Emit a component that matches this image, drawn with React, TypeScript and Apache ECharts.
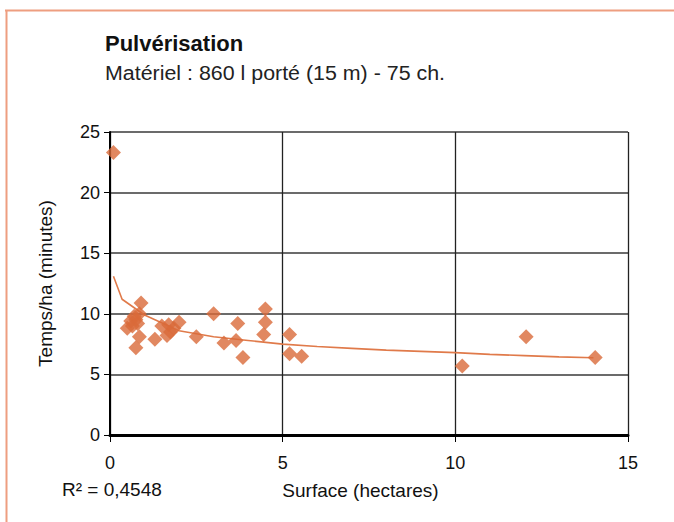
import React, { useEffect, useRef } from "react";
import * as echarts from "echarts";

const surfaceHa = [0.1, 0.5, 0.6, 0.65, 0.7, 0.75, 0.8, 0.85, 0.9, 0.85, 0.75, 1.3, 1.5, 1.65, 1.7, 1.75, 1.85, 2.0, 2.5, 3.0, 3.3, 3.65, 3.7, 3.85, 4.45, 4.5, 4.5, 5.2, 5.2, 5.55, 10.2, 12.05, 14.05];
const tempsMin = [23.3, 8.8, 9.4, 9.0, 9.8, 9.5, 9.2, 10.0, 10.9, 8.1, 7.2, 7.9, 9.0, 8.2, 9.1, 8.5, 8.8, 9.3, 8.1, 10.0, 7.6, 7.8, 9.2, 6.4, 8.3, 9.3, 10.4, 8.3, 6.7, 6.5, 5.7, 8.1, 6.4];

const trendX = [0.1, 0.35, 1, 2, 3, 4, 5, 6, 7, 8, 9, 10, 11, 12, 13, 14];
const trendY = [13.1, 11.2, 9.9, 8.6, 8.1, 7.8, 7.5, 7.3, 7.15, 7.0, 6.9, 6.8, 6.65, 6.55, 6.45, 6.37];

const xTicks = [0, 5, 10, 15];
const yTicks = [0, 5, 10, 15, 20, 25];

const titleText = "Pulvérisation";
const subtitleText = "Matériel : 860 l porté (15 m) - 75 ch.";
const r2Text = "R² = 0,4548";
const xName = "Surface (hectares)";
const yName = "Temps/ha (minutes)";

export default function App() {
  const ref = useRef<HTMLDivElement>(null);
  useEffect(() => {
    const chart = echarts.init(ref.current!, null, { renderer: "svg" });
    const font = "'Liberation Sans', Arial, sans-serif";
    chart.setOption({
      animation: false,
      backgroundColor: "#ffffff",
      grid: { left: 110, right: 46, top: 132, bottom: 87 },
      xAxis: {
        type: "value",
        min: xTicks[0],
        max: xTicks[xTicks.length - 1],
        interval: 5,
        name: xName,
        nameLocation: "middle",
        nameGap: 46,
        nameTextStyle: { fontFamily: font, fontSize: 19, color: "#111", padding: [0, 17, 0, 0] },
        axisLine: { show: true, lineStyle: { color: "#000", width: 3 } },
        axisTick: { show: true, length: 7, lineStyle: { color: "#000", width: 1 } },
        axisLabel: { fontFamily: font, fontSize: 18, color: "#111", margin: 19 },
        splitLine: { show: true, lineStyle: { color: "#222", width: 1.3 } },
      },
      yAxis: {
        type: "value",
        min: yTicks[0],
        max: yTicks[yTicks.length - 1],
        interval: 5,
        name: yName,
        nameLocation: "middle",
        nameGap: 55,
        nameRotate: 90,
        nameTextStyle: { fontFamily: font, fontSize: 19, color: "#111" },
        axisLine: { show: true, lineStyle: { color: "#000", width: 2 } },
        axisTick: { show: true, length: 6, lineStyle: { color: "#000", width: 1 } },
        axisLabel: { fontFamily: font, fontSize: 18, color: "#111", margin: 10 },
        splitLine: { show: true, lineStyle: { color: "#3a3a3a", width: 1.5 } },
      },
      series: [
        {
          type: "line",
          data: trendX.map((x, i) => [x, trendY[i]]),
          showSymbol: false,
          smooth: false,
          lineStyle: { color: "#E07A4A", width: 1.6 },
          z: 2,
          silent: true,
        },
        {
          type: "scatter",
          data: surfaceHa.map((x, i) => [x, tempsMin[i]]),
          symbol: "diamond",
          symbolSize: 15,
          itemStyle: { color: "#D96A3A" },
          z: 3,
        },
      ],
      graphic: [
        { type: "line", shape: { x1: 5, y1: 10.5, x2: 674, y2: 10.5 }, style: { stroke: "#EE9E80", lineWidth: 2 } },
        { type: "line", shape: { x1: 6.5, y1: 10, x2: 6.5, y2: 522 }, style: { stroke: "#EE9E80", lineWidth: 2 } },
        {
          type: "text",
          x: 105,
          y: 32,
          style: { text: titleText, fontFamily: font, fontWeight: "bold", fontSize: 22, fill: "#111" },
        },
        {
          type: "text",
          x: 105,
          y: 63,
          scaleX: 1.07,
          style: { text: subtitleText, fontFamily: font, fontSize: 20, fill: "#222" },
        },
        {
          type: "text",
          x: 62,
          y: 480,
          style: { text: r2Text, fontFamily: font, fontSize: 19, fill: "#111" },
        },
      ],
    });
    return () => chart.dispose();
  }, []);
  return (
    <div
      ref={ref}
      style={{ position: "fixed", left: 0, top: 0, width: 674, height: 522 }}
    />
  );
}
